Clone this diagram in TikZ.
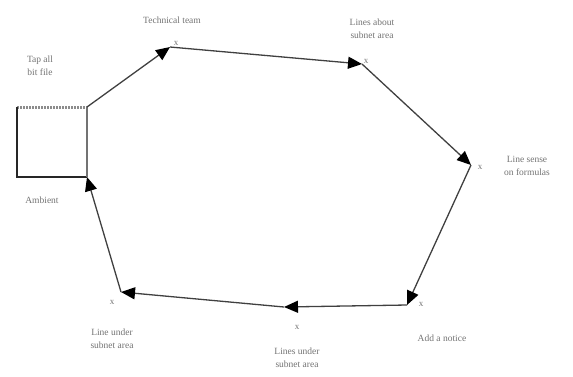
\documentclass[tikz,border=0pt]{standalone}
\usepackage{fontspec}
\setmainfont{Liberation Serif}
\usetikzlibrary{arrows.meta}
\begin{document}
\begin{tikzpicture}[x=1pt,y=-1pt,
  lbl/.style={text=black!55,font=\fontsize{9.5}{11}\selectfont,inner sep=0pt,align=center},
  xmark/.style={text=black!55,font=\fontsize{9}{10}\selectfont,inner sep=0pt},
  conn/.style={draw=black!75,line width=1.3pt,-{Triangle[length=14pt,width=12pt,fill=black,color=black]}}]
\useasboundingbox (0,0) rectangle (573,376);
% square
\coordinate (sq1) at (17,107);
\coordinate (sq2) at (87,107);
\coordinate (sq3) at (87,177);
\coordinate (sq4) at (17,177);
\draw[black!45,line width=3pt,dash pattern=on 2pt off 1pt] (sq1) -- (sq2);
\draw[black!85,line width=1.4pt] (sq1) -- (sq4) -- (sq3);
\draw[black!55,line width=1.3pt] (sq2) -- (sq3);
% vertices
\coordinate (pA) at (170,47);
\coordinate (pB) at (362,64);
\coordinate (pC) at (471,165);
\coordinate (pD) at (407,305);
\coordinate (pE) at (284,307);
\coordinate (pF) at (121,292);
% connectors
\draw[conn] (sq2) -- (pA);
\draw[conn] (pA) -- (pB);
\draw[conn] (pB) -- (pC);
\draw[conn] (pC) -- (pD);
\draw[conn] (pD) -- (pE);
\draw[conn] (pE) -- (pF);
\draw[conn] (pF) -- (sq3);
% x marks
\node[xmark] (xA) at (176,43) {x};
\node[xmark] (xB) at (366,61) {x};
\node[xmark] (xC) at (480,167) {x};
\node[xmark] (xD) at (421,304) {x};
\node[xmark] (xE) at (297,327) {x};
\node[xmark] (xF) at (112,302) {x};
% labels
\node[lbl] (lsq) at (40,66) {Tap all\\[2pt]bit file};
\node[lbl] (lamb) at (42,200) {Ambient};
\node[lbl] (lA) at (172,20) {Technical team};
\node[lbl] (lB) at (372,29) {Lines about\\[2pt]subnet area};
\node[lbl] (lC) at (527,166) {Line sense\\[2pt]on formulas};
\node[lbl] (lD) at (442,338) {Add a notice};
\node[lbl] (lE) at (297,358) {Lines under\\[2pt]subnet area};
\node[lbl] (lF) at (112,339) {Line under\\[2pt]subnet area};
\end{tikzpicture}
\end{document}
